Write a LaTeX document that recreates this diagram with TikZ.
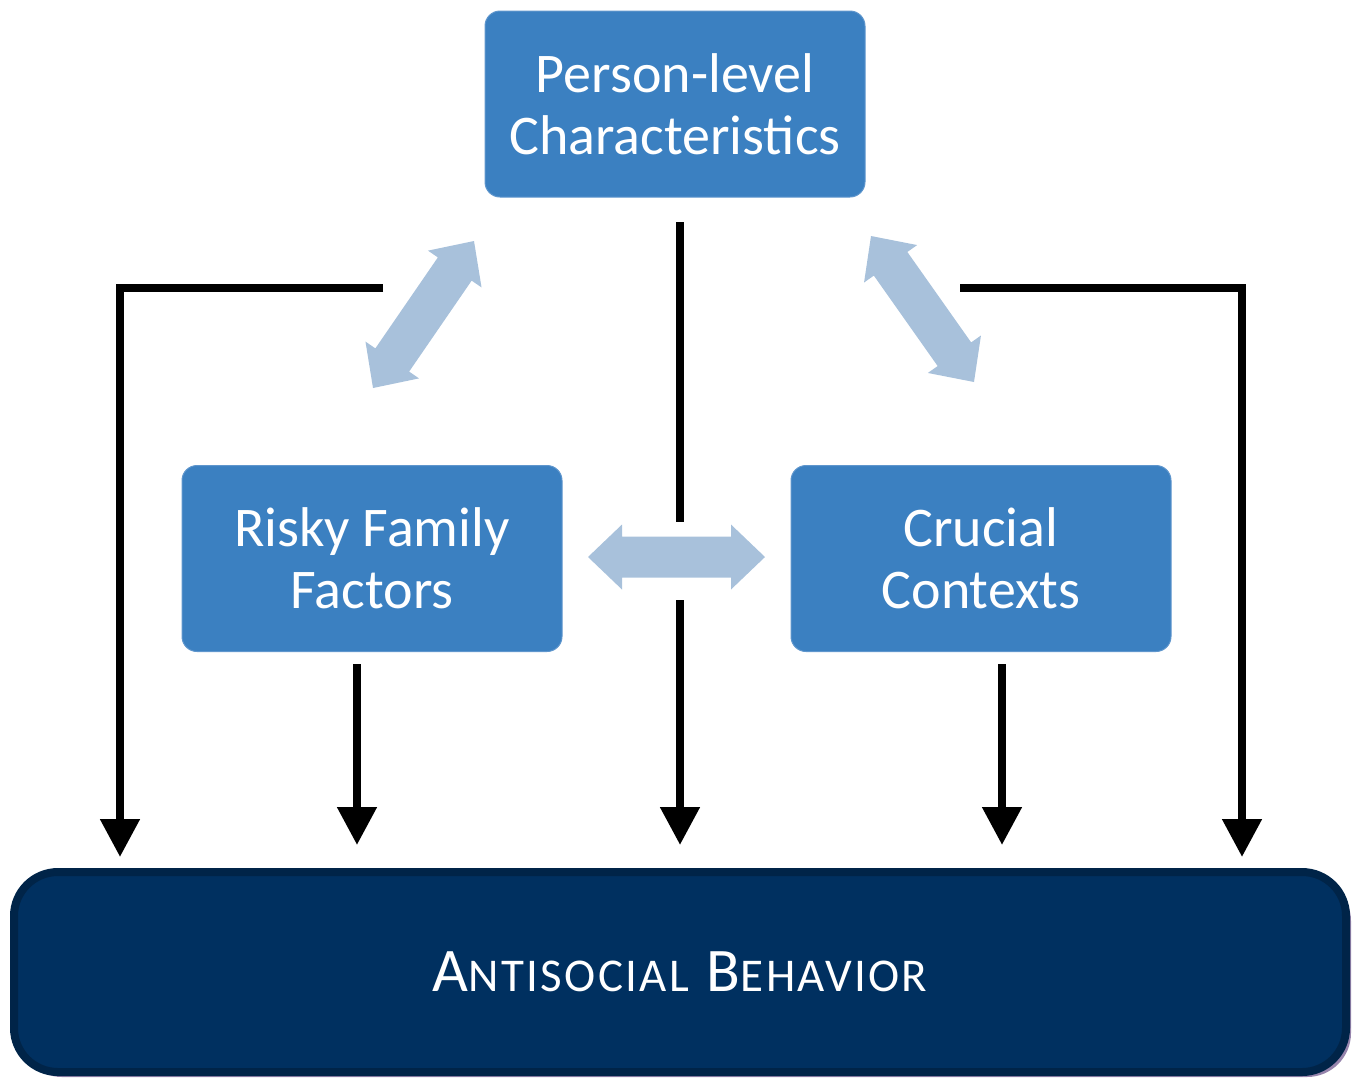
\documentclass[tikz,border=0pt]{standalone}
\usepackage{fontspec}
\setmainfont{Carlito}
\usetikzlibrary{arrows.meta,calc}
\definecolor{boxblue}{RGB}{59,128,193}
\definecolor{boxedge}{RGB}{95,150,205}
\definecolor{navy}{RGB}{0,48,96}
\definecolor{navyedge}{RGB}{0,36,72}
\definecolor{lightarrow}{RGB}{168,193,219}
\definecolor{shadecol}{RGB}{150,132,172}
\newcommand\lightdbl[2]{%
  \coordinate (#1-h) at ($(#1)!17pt!(#2)$);
  \coordinate (#2-h) at ($(#2)!17pt!(#1)$);
  \fill[lightarrow] (#1) -- ($(#1-h)!16.25pt!90:(#2)$) -- ($(#1-h)!10.25pt!90:(#2)$)
    -- ($(#2-h)!10.25pt!-90:(#1)$) -- ($(#2-h)!16.25pt!-90:(#1)$) -- (#2)
    -- ($(#2-h)!16.25pt!90:(#1)$) -- ($(#2-h)!10.25pt!90:(#1)$)
    -- ($(#1-h)!10.25pt!-90:(#2)$) -- ($(#1-h)!16.25pt!-90:(#2)$) -- cycle;}
\newcommand\capbig[1]{{\fontsize{31}{31}\selectfont #1}}
\newcommand\capsmall[1]{{\fontsize{23.5}{31}\selectfont\addfontfeature{LetterSpace=5}#1}}
\begin{document}
\begin{tikzpicture}[x=0.5pt,y=-0.5pt,
  bluebox/.style={fill=boxblue, draw=boxedge, line width=0.5pt, rounded corners=7.5pt,
    minimum width=190pt, minimum height=93pt, text=white, align=center,
    font=\fontsize{28}{31}\selectfont, inner sep=0pt},
  blackline/.style={line width=4pt},
  blackarrow/.style={line width=4pt, -{Triangle[width=19pt,length=19pt]}}]
\useasboundingbox (0,0) rectangle (1360,1078);

% boxes
\node[bluebox] (pl) at (675,104) {Person-level\\Characteristics};
\node[bluebox] (rf) at (372,558.5) {Risky Family\\Factors};
\node[bluebox] (cc) at (981,558.5) {Crucial\\Contexts};

\fill[shadecol, rounded corners=22pt] (18,877) rectangle (1351,1077);
\node[fill=navy, draw=navyedge, line width=4pt, rounded corners=22pt,
  minimum width=666pt, minimum height=100pt, text=white, inner sep=0pt] (ab) at (680,972)
  {\capbig{A}\capsmall{NTISOCIAL}\hspace{9pt}\capbig{B}\capsmall{EHAVIOR}};

% light double arrows
\coordinate (hl) at (588,557);
\coordinate (hr) at (765,557);
\lightdbl{hl}{hr}
\coordinate (dla) at (373,388);
\coordinate (dlb) at (474,241);
\lightdbl{dla}{dlb}
\coordinate (dra) at (871,236);
\coordinate (drb) at (974,382);
\lightdbl{dra}{drb}

% black connectors
\coordinate (lt) at (383,288);
\coordinate (lb) at (120,857);
\draw[blackarrow] (lt) -| (lb);
\coordinate (rt) at (960,288);
\coordinate (rb) at (1242,857);
\draw[blackarrow] (rt) -| (rb);
\coordinate (c1) at (680,222);
\coordinate (c2) at (680,522);
\draw[blackline] (c1) -- (c2);
\coordinate (c3) at (680,600);
\coordinate (c4) at (680,845);
\draw[blackarrow] (c3) -- (c4);
\coordinate (r1) at (357,664);
\coordinate (r2) at (357,845);
\draw[blackarrow] (r1) -- (r2);
\coordinate (k1) at (1002,664);
\coordinate (k2) at (1002,845);
\draw[blackarrow] (k1) -- (k2);
\end{tikzpicture}
\end{document}
